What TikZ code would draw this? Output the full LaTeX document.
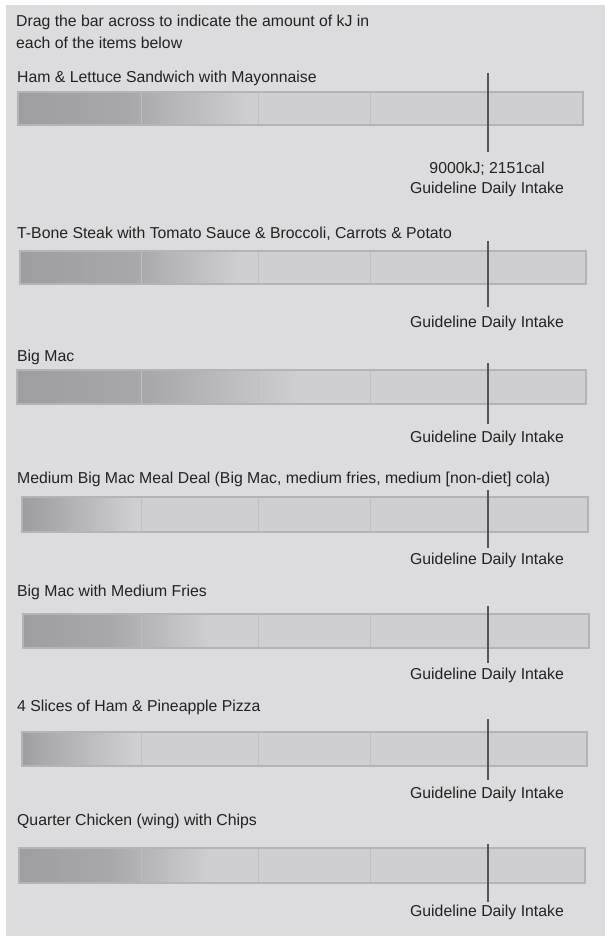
\documentclass[tikz,border=0pt]{standalone}
\usepackage{fontspec}
\setmainfont{Liberation Sans}
\usepackage{tikz}

\definecolor{panelGray}{HTML}{DCDCDE}
\definecolor{barFill}{HTML}{CFCFD1}
\definecolor{barDark}{HTML}{9E9EA0}
\definecolor{barMid}{HTML}{A8A8AA}
\definecolor{barEdge}{HTML}{B4B4B6}
\definecolor{markGray}{HTML}{555555}
\definecolor{inkGray}{HTML}{222222}

\begin{document}
\begin{tikzpicture}[x=1pt, y=-1pt,
  every node/.style = {text=inkGray, font=\fontsize{15.8}{22}\selectfont},
  lbl/.style = {anchor=west, inner sep=0pt, text height=11.4pt, text depth=0pt},
  gdi/.style = {anchor=center, inner sep=0pt, text height=11.4pt, text depth=0pt},
  bar/.style = {draw=barEdge, line width=1.4pt, inner sep=0pt, outer sep=0pt,
    anchor=north west},
  divider/.style = {draw=barEdge!85!white, line width=1pt},
  gdiline/.style = {draw=markGray, line width=1.8pt}]

  \useasboundingbox (0,0) rectangle (605,936);
  \fill[white] (0,0) rectangle (605,936);
  \fill[panelGray] (6,5) rectangle (605,936);

  % heading
  \node[lbl] (title) at (16,21) {Drag the bar across to indicate the amount of kJ in};
  \node[lbl] (title2) at (16,43) {each of the items below};

  % item labels
  \node[lbl] (lbl1) at (17,77)  {Ham \& Lettuce Sandwich with Mayonnaise};
  \node[lbl] (lbl2) at (17,233) {T-Bone Steak with Tomato Sauce \& Broccoli, Carrots \& Potato};
  \node[lbl] (lbl3) at (17,356) {Big Mac};
  \node[lbl] (lbl4) at (17,478) {Medium Big Mac Meal Deal (Big Mac, medium fries, medium [non-diet] cola)};
  \node[lbl] (lbl5) at (17,591) {Big Mac with Medium Fries};
  \node[lbl] (lbl6) at (17,706) {4 Slices of Ham \& Pineapple Pizza};
  \node[lbl] (lbl7) at (17,820) {Quarter Chicken (wing) with Chips};

  % bars: number / top / bottom / left / right / dark end / fade end / mark top / mark bottom / text
  \foreach \n/\top/\bot/\lft/\rgt/\dk/\fd/\mt/\mb/\ty in {
      1/92/125/18/583/130/250/73/152/188,
      2/251/284/20/586/135/240/241/307/322,
      3/370/404/17/586/150/300/363/424/437,
      4/497/532/22/588/50/135/490/548/559,
      5/614/648/23/589/110/210/606/663/674,
      6/732/766/22/587/40/135/719/780/793,
      7/848/883/19/585/110/210/844/902/911} {
    \fill[barFill] (\lft,\top) rectangle (\rgt,\bot);
    \shade[left color=barDark, right color=barMid] (\lft,\top) rectangle (\dk,\bot);
    \shade[left color=barMid, right color=barFill] (\dk,\top) rectangle (\fd,\bot);
    \foreach \d in {141,258,370}
      \draw[divider] (\d,\top) -- (\d,\bot);
    \node[bar, minimum width={(\rgt-\lft)*1pt}, minimum height={(\bot-\top)*1pt}]
      (bar\n) at (\lft,\top) {};
    \coordinate (mkt\n) at (488,\mt);
    \coordinate (mkb\n) at (488,\mb);
    \draw[gdiline] (mkt\n) -- (mkb\n);
    \node[gdi] (gdi\n) at (487,\ty) {Guideline Daily Intake};
  }
  \node[gdi] (kcal) at (487,168) {9000kJ; 2151cal};
\end{tikzpicture}
\end{document}
